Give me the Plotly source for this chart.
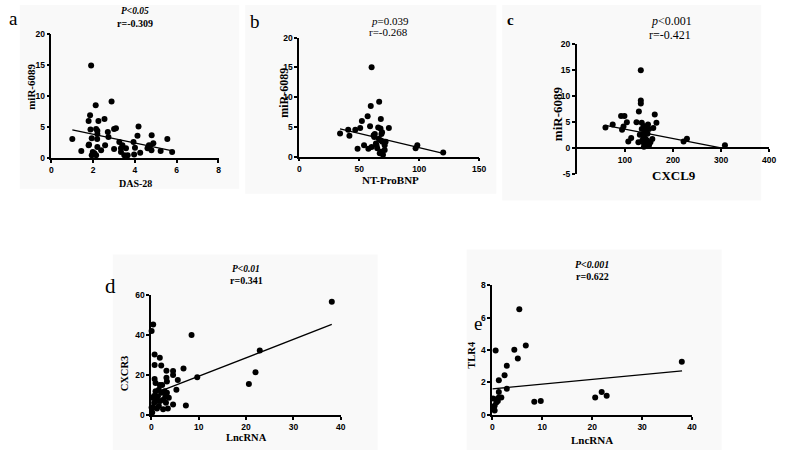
import plotly.graph_objects as go

W, H = 789, 455

# ---------------- data ----------------
a_x = [1.0, 1.43, 1.9, 1.78, 1.8, 1.78, 1.85, 1.87, 1.93, 1.98, 1.93, 2.06, 2.12, 2.14, 2.2, 2.2, 2.19,
       2.25, 2.14, 2.2, 2.38, 2.54, 2.57, 2.7, 2.73, 2.88, 3.0, 3.09, 3.0, 3.25, 3.33, 3.4, 3.49, 3.57,
       3.65, 3.33, 3.93, 4.0, 3.96, 4.12, 4.17, 4.25, 4.6, 4.72, 4.8, 4.88, 4.79, 5.23, 5.55, 5.78, 4.67]
a_y = [3.1, 1.15, 14.9, 2.1, 2.2, 6.0, 6.9, 4.6, 3.2, 1.0, 0.5, 0.8, 8.5, 4.7, 4.4, 3.9, 3.1,
       6.0, 0.5, 1.8, 1.3, 6.3, 2.1, 4.2, 3.4, 9.1, 4.7, 4.8, 1.5, 2.6, 1.6, 2.1, 0.5, 1.6,
       0.5, 1.0, 2.6, 1.7, 0.6, 3.6, 5.1, 0.9, 1.6, 2.0, 3.7, 2.4, 1.3, 1.15, 3.1, 1.0, 2.1]
a_fit_x = [1.0, 5.8]
a_fit_y = [4.55, 1.2]
a_xticks = [0, 2, 4, 6, 8]
a_yticks = [0, 5, 10, 15, 20]

b_x = [34, 40.8, 41.8, 46.7, 48.6, 50.8, 52.2, 54, 57, 57.6, 59, 59.6, 60.3, 60.3, 62, 62.5, 63, 63.9,
       64.4, 65, 65.8, 66.6, 66.3, 67.1, 67.7, 68, 68.5, 68.5, 69, 68, 69.3, 69.8, 71.2, 71.2, 72, 74.7,
       97, 98.4, 120]
b_y = [3.9, 4.5, 3.5, 4.5, 1.3, 4.8, 6.0, 1.9, 6.8, 1.3, 5.1, 8.5, 15, 1.6, 3.6, 3.3, 3.8, 2.2,
       1.9, 1.4, 4.9, 9.2, 3.0, 0.55, 4.7, 2.7, 3.8, 0.8, 4.1, 6.3, 2.5, 0.3, 1.9, 1.1, 2.5, 4.8,
       1.4, 1.9, 0.7]
b_fit_x = [34, 120]
b_fit_y = [4.66, 0.55]
b_xticks = [0, 50, 100, 150]
b_yticks = [0, 5, 10, 15, 20]

c_x = [59.5, 74.5, 92, 99, 94, 97, 104, 107, 113, 124, 128, 129, 133, 133, 133, 135, 135, 137, 138,
       139.5, 141.5, 143, 145, 145, 147, 148, 150, 150, 153, 157, 159, 162, 165.5, 222, 229, 308,
       140, 136, 142, 131, 146, 139]
c_y = [4.0, 4.6, 6.2, 6.2, 3.6, 4.2, 5.0, 1.35, 2.0, 5.0, 1.2, 7.1, 9.2, 8.6, 15, 4.9, 3.7, 2.5, 1.2,
       0.3, 2.8, 1.8, 4.0, 0.9, 2.8, 4.6, 3.7, 0.6, 1.2, 1.8, 3.9, 6.5, 4.9, 1.35, 1.85, 0.6,
       2.0, 1.5, 3.3, 2.6, 1.5, 4.3]
c_fit_x = [59.5, 305]
c_fit_y = [4.4, 0.0]
c_xticks = [100, 200, 300, 400]
c_yticks = [-5, 0, 5, 10, 15, 20]

d_x = [0.07, 0.4, 0.7, 0.7, 0.7, 1.8, 2.1, 3.2, 3.2, 3.3, 4.6, 4.6, 6.8, 5.6, 5.3, 4.6, 3.5, 7.3, 8.5,
       9.7, 20.6, 22.0, 22.9, 38.1,
       0.2, 0.4, 0.6, 0.7, 0.9, 1.1, 1.2, 1.4, 1.6, 1.8, 1.9, 2.1, 2.3, 2.5, 2.6, 2.8, 3.0, 3.1, 3.3,
       3.7, 1.6, 0.2, 0.07, 0.9]
d_y = [42, 45.3, 30.2, 25, 18, 28.6, 24.7, 22.1, 18.6, 16.7, 22, 20, 23.2, 17.5, 12.6, 5.2, 3.1, 4.7, 40,
       18.8, 15.4, 21.4, 32.2, 56.7,
       1.1, 3.6, 6, 9.3, 11.8, 6.9, 3.1, 9.3, 12.6, 15, 6.9, 11, 15, 2.8, 7.7, 11.8, 9.3, 6, 11,
       8.5, 4.4, 8.5, 3.6, 15.9]
d_fit_x = [0, 38.1]
d_fit_y = [10.1, 45.3]
d_xticks = [0, 10, 20, 30, 40]
d_yticks = [0, 20, 40, 60]

e_x = [0.66, 5.4, 6.7, 4.4, 5.1, 2.9, 2.45, 1.3, 2.9, 1.3, 1.3, 1.8, 0.13, 0.8, 0.8, 0.46, 0.26, 0.46,
       1.1, 8.4, 9.7, 20.6, 21.9, 22.9, 37.95]
e_y = [3.98, 6.53, 4.28, 4.02, 3.48, 3.03, 2.45, 2.13, 1.61, 1.41, 1.07, 1.07, 1.0, 0.96, 0.76, 0.56,
       0.36, 0.26, 0.86, 0.8, 0.86, 1.07, 1.41, 1.17, 3.28]
e_fit_x = [0, 38]
e_fit_y = [1.6, 2.71]
e_xticks = [0, 10, 20, 30, 40]
e_yticks = [0, 2, 4, 6, 8]

# ---------------- layout helpers ----------------
def xd(x0, x1):
    return [x0 / W, x1 / W]

def yd(top, bottom):
    return [1 - bottom / H, 1 - top / H]

def bold_ticks(vals):
    return dict(tickmode="array", tickvals=vals, ticktext=["<b>%g</b>" % v for v in vals])

tickfont = dict(family="Liberation Sans", size=8.5, color="black")
axis_common = dict(showline=True, linecolor="black", linewidth=1.7, ticks="outside",
                   ticklen=3, tickwidth=1.5, tickcolor="black", showgrid=False,
                   zeroline=False, tickfont=tickfont, fixedrange=True)

panels = [
    ("1", a_x, a_y, a_fit_x, a_fit_y, xd(50, 219), yd(29.3, 156.7), [0, 8], [0, 20], a_xticks, a_yticks),
    ("2", b_x, b_y, b_fit_x, b_fit_y, xd(300.7, 482.7), yd(33.3, 155), [0, 150], [0, 20], b_xticks, b_yticks),
    ("3", c_x, c_y, c_fit_x, c_fit_y, xd(581.5, 776), yd(40, 173.3), [0, 400], [-5, 20], c_xticks, c_yticks),
    ("4", d_x, d_y, d_fit_x, d_fit_y, xd(151, 342.7), yd(296.7, 419), [0, 40], [0, 60], d_xticks, d_yticks),
    ("5", e_x, e_y, e_fit_x, e_fit_y, xd(496, 698), yd(286.7, 419), [0, 40], [0, 8], e_xticks, e_yticks),
]

fig = go.Figure()
layout = {}
for name, px, py, fx, fy, xdom, ydom, xr, yr, xt, yt in panels:
    xa = "x" if name == "1" else "x" + name
    ya = "y" if name == "1" else "y" + name
    fig.add_trace(go.Scatter(x=px, y=py, mode="markers", xaxis=xa, yaxis=ya,
                             marker=dict(color="black", size=6), cliponaxis=False,
                             showlegend=False, hoverinfo="skip"))
    fig.add_trace(go.Scatter(x=fx, y=fy, mode="lines", xaxis=xa, yaxis=ya,
                             line=dict(color="black", width=1.3), cliponaxis=False,
                             showlegend=False, hoverinfo="skip"))
    xkey = "xaxis" if name == "1" else "xaxis" + name
    ykey = "yaxis" if name == "1" else "yaxis" + name
    xopts = dict(axis_common, domain=xdom, range=xr, anchor=ya, **bold_ticks(xt))
    yopts = dict(axis_common, domain=ydom, range=yr, anchor=xa, **bold_ticks(yt))
    if name == "3":
        # x axis crosses at y = 0
        xopts["anchor"] = "free"
        xopts["position"] = 1 - 146.7 / H
    layout[xkey] = xopts
    layout[ykey] = yopts

fig.update_layout(**layout)

serif = "Liberation Serif"

def ann(x, y, text, size, angle=0, bold=False):
    if bold:
        text = "<b>" + text + "</b>"
    fig.add_annotation(x=x / W, y=1 - y / H, xref="paper", yref="paper", text=text,
                       showarrow=False, textangle=angle, xanchor="center", yanchor="middle",
                       font=dict(family=serif, size=size, color="black"))

# panel letters
ann(12, 14, "a", 19)
ann(256, 17, "b", 19)
ann(514, 15, "c", 15, bold=True)
ann(110, 287, "d", 21)
ann(481, 326, "e", 19)

# statistics text
ann(135, 6, "<i>P&lt;0.05</i>", 9.5, bold=True)
ann(135, 19, "r=-0.309", 10, bold=True)
ann(392, 16, "<i>p</i>=0.039", 11)
ann(391, 28, "r=-0.268", 11)
ann(677, 16, "<i>p</i>&lt;0.001", 12)
ann(676, 31, "r=-0.421", 12)
ann(247, 270, "<i>P&lt;0.01</i>", 9.5, bold=True)
ann(247, 282, "r=0.341", 10, bold=True)
ann(597, 265, "<i>P&lt;0.001</i>", 10, bold=True)
ann(597, 278, "r=0.622", 10, bold=True)

# axis titles
ann(29, 84, "miR-6089", 11, angle=-90, bold=True)
ann(135, 183, "DAS-28", 10, bold=True)
ann(285, 90, "miR-6089", 12, angle=-90, bold=True)
ann(393, 179, "NT-ProBNP", 11, bold=True)
ann(562, 111, "miR-6089", 13, angle=-90, bold=True)
ann(680, 174, "CXCL9", 13, bold=True)
ann(124, 377, "CXCR3", 10.5, angle=-90, bold=True)
ann(247, 442, "LncRNA", 10.5, bold=True)
ann(475, 358, "TLR4", 10.5, angle=-90, bold=True)
ann(597, 445, "LncRNA", 11, bold=True)

# faint panel backgrounds
bg = "#f9f9f9"
for x0, y0, x1, y1 in [(18, 0, 240, 188), (246, 0, 500, 193), (506, 0, 768, 200),
                       (112, 255, 380, 455), (470, 250, 728, 455)]:
    fig.add_shape(type="rect", xref="paper", yref="paper", x0=x0 / W, x1=x1 / W,
                  y0=1 - y1 / H, y1=1 - y0 / H, fillcolor=bg, line=dict(width=0), layer="below")

fig.update_layout(width=W, height=H, margin=dict(l=0, r=0, t=0, b=0),
                  paper_bgcolor="white", plot_bgcolor="rgba(0,0,0,0)", showlegend=False)

fig.write_html("out.html")
